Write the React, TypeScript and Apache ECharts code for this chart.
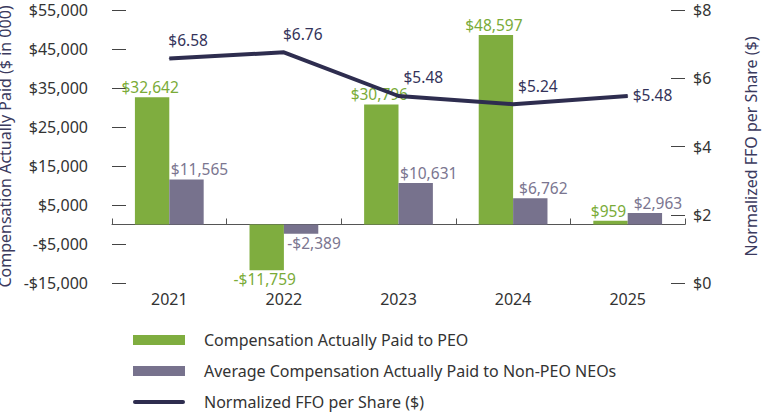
import React, { useEffect, useRef } from "react";
import * as echarts from "echarts";

const years = ["2021", "2022", "2023", "2024", "2025"];
const peoComp = [32642, -11759, 30796, 48597, 959];
const neoComp = [11565, -2389, 10631, 6762, 2963];
const ffo = [6.58, 6.76, 5.48, 5.24, 5.48];
const leftTicks = { min: -15000, max: 55000, interval: 10000 };
const rightTicks = { min: 0, max: 8, interval: 2 };
const seriesNames = [
  "Compensation Actually Paid to PEO",
  "Average Compensation Actually Paid to Non-PEO NEOs",
  "Normalized FFO per Share ($)",
];

const GREEN = "#7fad3f";
const GRAY = "#77728d";
const NAVY = "#2e2d4f";
const FONT = "Noto Sans";

const money = (v: number) =>
  (v < 0 ? "-$" : "$") + Math.abs(v).toLocaleString("en-US");

export default function App() {
  const ref = useRef<HTMLDivElement>(null);
  useEffect(() => {
    if (!ref.current) return;
    const chart = echarts.init(ref.current, undefined, { renderer: "svg" });
    const barData = (arr: number[], dx: number) =>
      arr.map((v) =>
        v < 0 ? { value: v, label: { position: "bottom", distance: 2, offset: [dx, 0] } } : v
      );
    chart.setOption({
      animation: false,
      textStyle: { fontFamily: FONT },
      grid: {
        left: 112,
        right: 80,
        top: 10,
        bottom: 130,
        containLabel: false,
        outerBoundsMode: "none",
      },
      legend: {
        orient: "vertical",
        left: 133,
        top: 332,
        padding: 0,
        itemWidth: 52,
        itemHeight: 10,
        itemGap: 15,
        textStyle: { fontFamily: FONT, fontSize: 16, color: "#333", padding: [0, 0, 0, 14] },
        data: [
          { name: seriesNames[0], icon: "rect" },
          { name: seriesNames[1], icon: "rect" },
          {
            name: seriesNames[2],
            icon: "path://M2,0 L50,0 A2,2 0 0 1 50,4 L2,4 A2,2 0 0 1 2,0 Z",
          },
        ],
      },
      xAxis: [
        {
          type: "category",
          data: years,
          position: "bottom",
          axisLine: { show: false, onZero: false },
          axisTick: { show: false },
          axisLabel: { fontFamily: FONT, fontSize: 16, color: "#333", margin: 8 },
        },
        {
          type: "category",
          data: years,
          position: "bottom",
          axisLine: { show: true, onZero: true, onZeroAxisIndex: 0, lineStyle: { color: "#555", width: 1 } },
          axisTick: { show: true, inside: true, length: 6, lineStyle: { color: "#555" } },
          axisLabel: { show: false },
        },
      ],
      yAxis: [
        {
          type: "value",
          min: leftTicks.min,
          max: leftTicks.max,
          interval: leftTicks.interval,
          name: "Compensation Actually Paid ($ in 000)",
          nameLocation: "middle",
          nameGap: 85,
          nameTextStyle: { fontFamily: FONT, fontSize: 16, color: "#3b3a5e" },
          axisLine: { show: false },
          axisTick: { show: true, inside: true, length: 14, lineStyle: { color: "#444" } },
          splitLine: { show: false },
          axisLabel: { fontFamily: FONT, fontSize: 16, color: "#333", margin: 24, formatter: money },
        },
        {
          type: "value",
          min: rightTicks.min,
          max: rightTicks.max,
          interval: rightTicks.interval,
          position: "right",
          name: "Normalized FFO per Share ($)",
          nameLocation: "middle",
          nameGap: 58,
          nameTextStyle: { fontFamily: FONT, fontSize: 16, color: "#3b3a5e" },
          axisLine: { show: false },
          axisTick: { show: true, inside: true, length: 14, lineStyle: { color: "#444" } },
          splitLine: { show: false },
          axisLabel: { fontFamily: FONT, fontSize: 16, color: "#333", margin: 8, formatter: (v: number) => "$" + v },
        },
      ],
      series: [
        {
          name: seriesNames[0],
          type: "bar",
          xAxisIndex: 0,
          yAxisIndex: 0,
          data: barData(peoComp, -2),
          barGap: "0%",
          barCategoryGap: "40%",
          itemStyle: { color: GREEN },
          label: {
            show: true,
            position: "top",
            distance: 3,
            offset: [-2, 0],
            fontFamily: FONT,
            fontSize: 15.5,
            lineHeight: 14,
            color: "#7aab38",
            formatter: (p: any) => money(p.value),
          },
        },
        {
          name: seriesNames[1],
          type: "bar",
          xAxisIndex: 0,
          yAxisIndex: 0,
          data: barData(neoComp, 13),
          itemStyle: { color: GRAY },
          label: {
            show: true,
            position: "top",
            distance: 3,
            offset: [13, 0],
            fontFamily: FONT,
            fontSize: 15.5,
            lineHeight: 14,
            color: "#7b7690",
            formatter: (p: any) => money(p.value),
          },
        },
        {
          name: seriesNames[2],
          type: "line",
          xAxisIndex: 0,
          yAxisIndex: 1,
          data: ffo,
          symbol: "circle",
          symbolSize: 1,
          itemStyle: { color: NAVY },
          lineStyle: { color: NAVY, width: 4 },
          label: {
            show: true,
            position: "top",
            distance: 10,
            fontFamily: FONT,
            fontSize: 15.5,
            lineHeight: 14,
            color: "#34335a",
            formatter: (p: any) => "$" + p.value.toFixed(2),
          },
          labelLayout: (params: any) => {
            const last = params.dataIndex === ffo.length - 1;
            const r = params.labelRect;
            const cx = params.rect.x + params.rect.width / 2;
            const cy = params.rect.y + params.rect.height / 2;
            return last
              ? { x: cx + 5, y: cy - r.height / 2, align: "left" }
              : { x: cx + (params.dataIndex >= 2 ? 5 : -1), y: r.y, align: "left" };
          },
        },
      ],
    });
    return () => chart.dispose();
  }, []);
  return (
    <div
      ref={ref}
      style={{ position: "fixed", left: 0, top: 0, width: 765, height: 413, background: "#fff" }}
    />
  );
}
